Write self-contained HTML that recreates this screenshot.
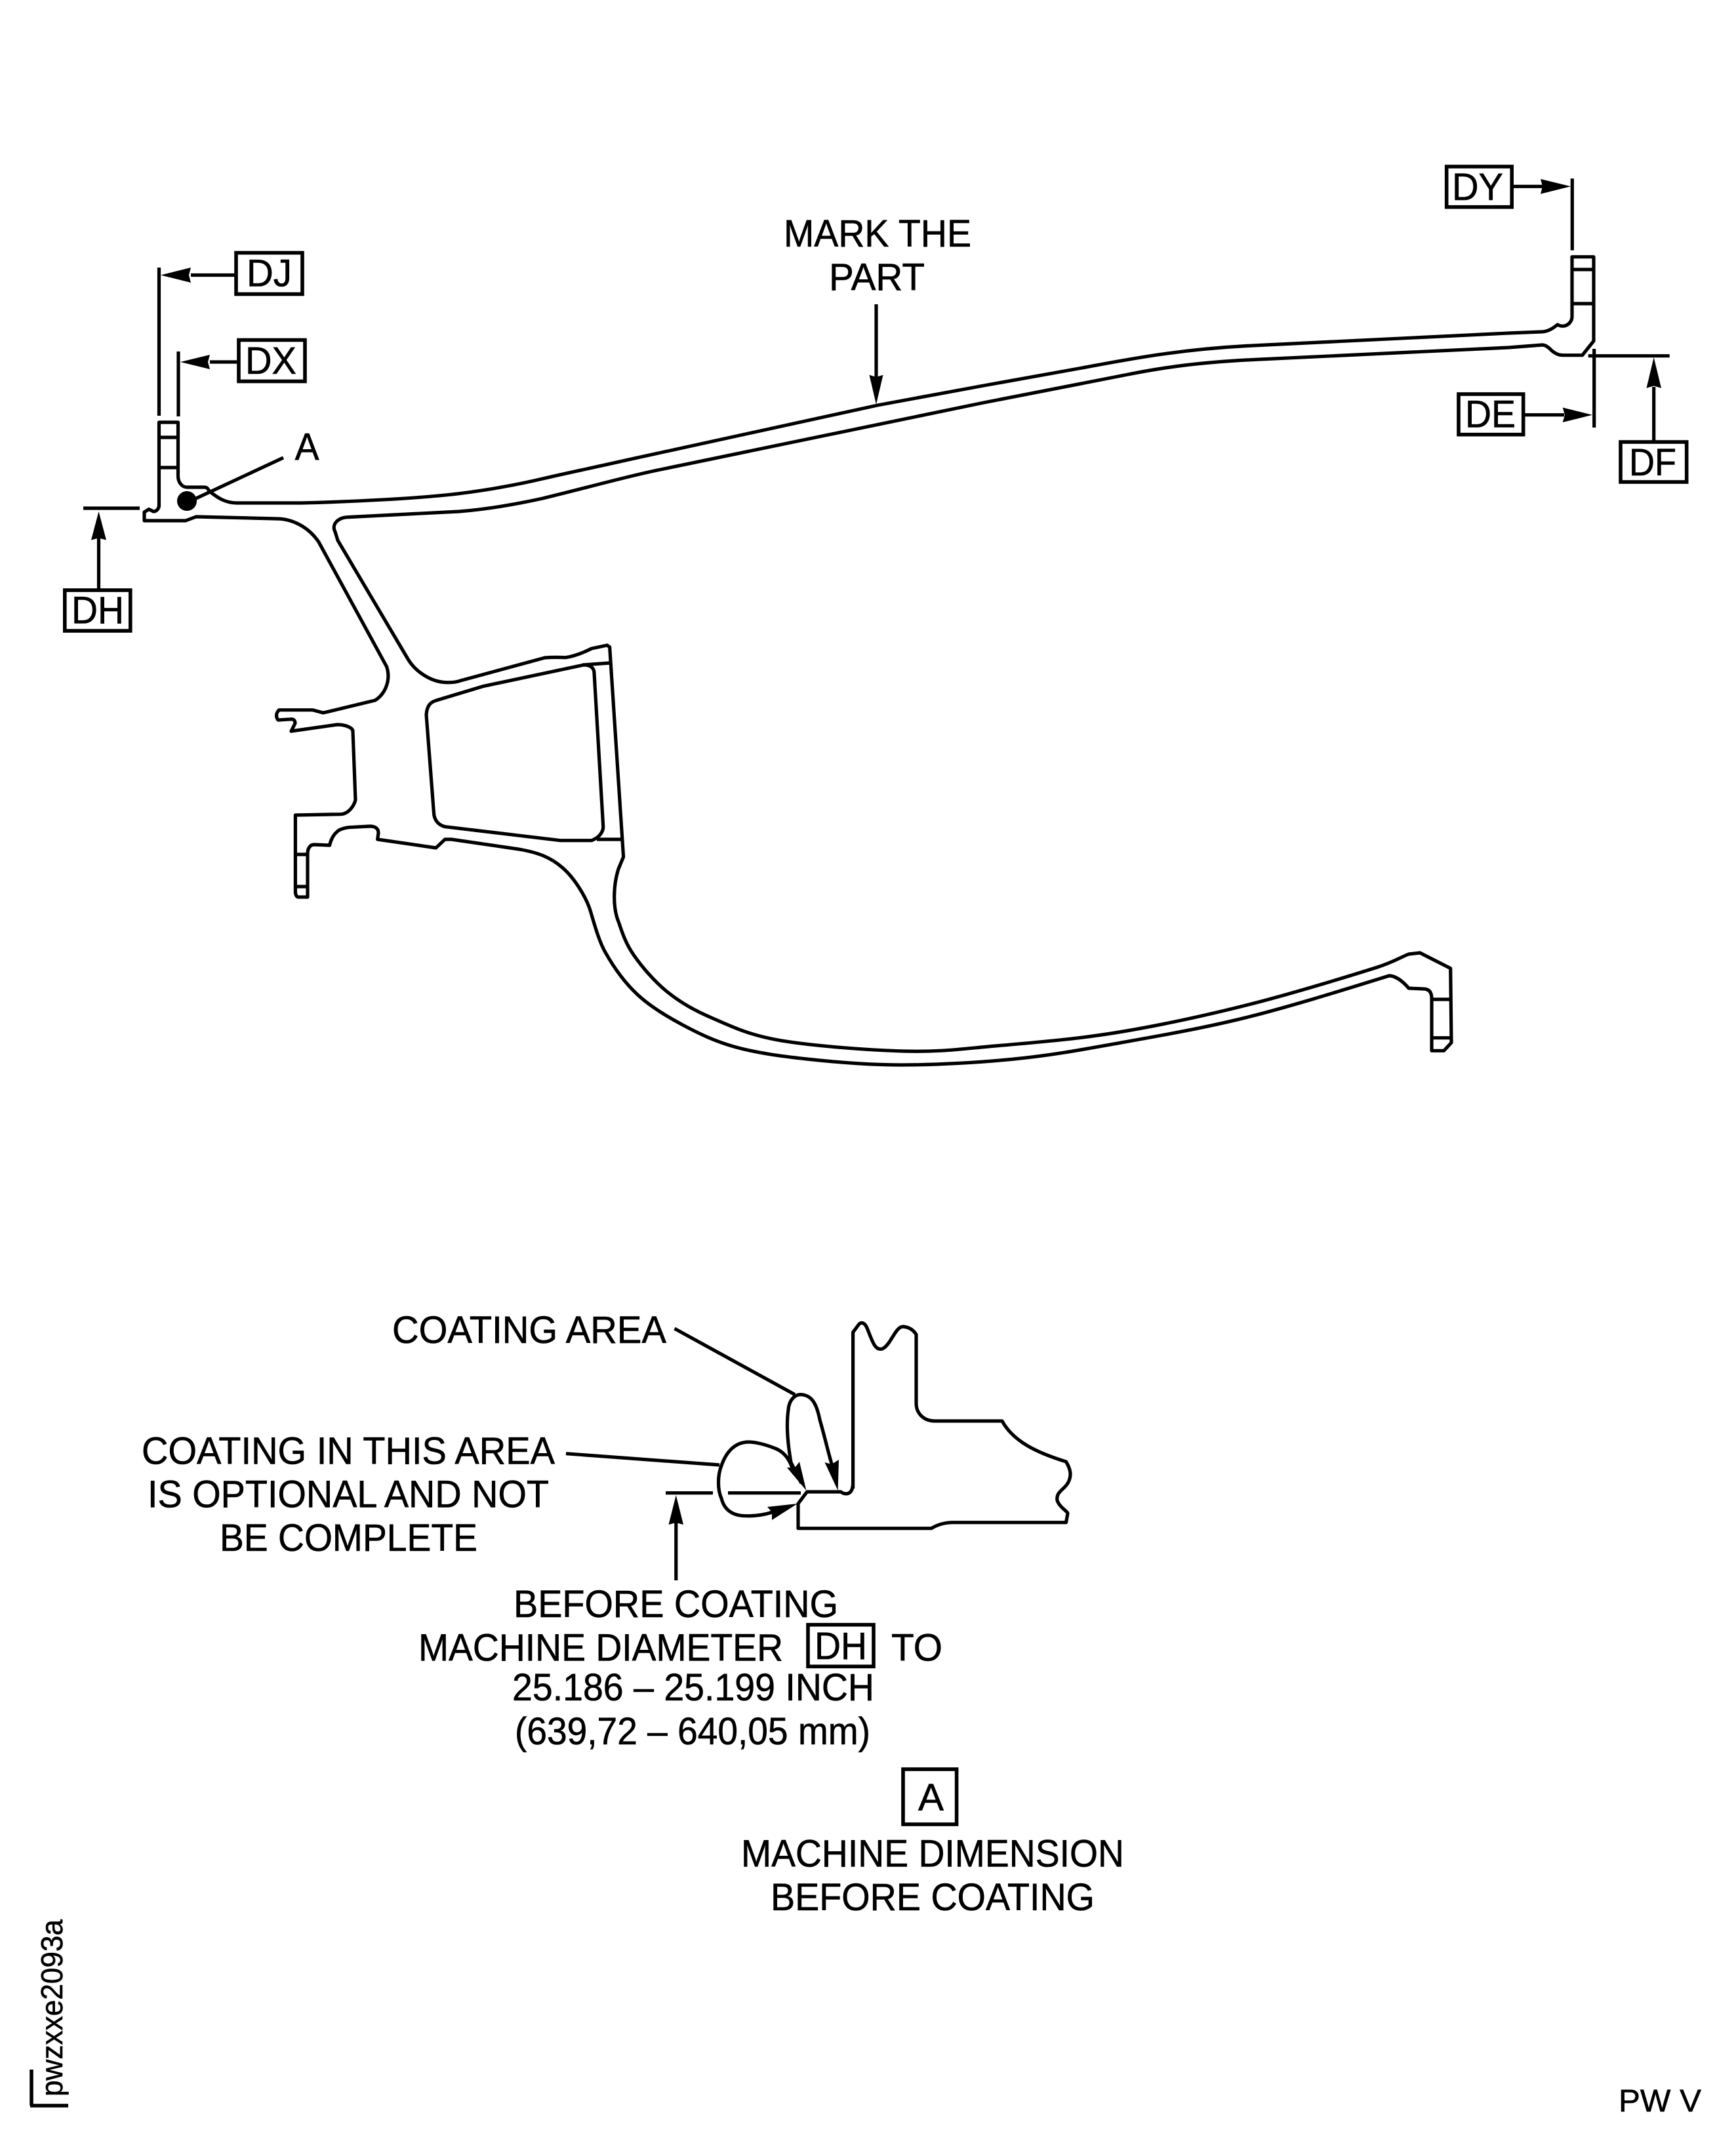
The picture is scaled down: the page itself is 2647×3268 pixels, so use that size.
<!DOCTYPE html>
<html><head><meta charset="utf-8"><title>Diagram</title>
<style>html,body{margin:0;padding:0;background:#fff}svg{display:block}
text{font-family:"Liberation Sans",sans-serif;font-size:58px;fill:#000;stroke:#000;stroke-width:.6px}</style></head>
<body>
<svg xmlns="http://www.w3.org/2000/svg" width="2647" height="3268" viewBox="0 0 2647 3268">
<rect width="2647" height="3268" fill="#fff"/>
<g fill="none" stroke="#000" stroke-width="5.2" stroke-linejoin="round">
<path d="M242.5,644 H271.5 V726 C271.5,736 278,743 285,743 H312 C316,743 317,746 319,748.5 C332,760 345,767 361,767 L459.5,767 C540,765 640,760 700,752.7 C745,747 785,740 827.5,730 C870,720 910,712 955,701.7 L1338,618 L1500,588 L1650,561 C1730,546 1800,533 1900,527.5 L2300,508 L2350,506 C2362,506 2371,498 2375,495 C2378,497 2380,497.3 2383,497.3 C2391,497 2397,490 2397,483 V391.7 H2430 V520 L2412.7,541.7 H2383 C2375,541.7 2368,537 2363,531.7 C2359,528 2355,526 2351.7,526 L2300,530 L1900,549 C1830,553 1780,559 1720,571 L1500,614 L1000,717.5 C950,728 890,745 827.5,760 Q760,775 700,780 L531,788.6 C515,789 505,800 511,811 L515,824 L622,1005 C632,1022 655,1040 680.5,1040.7 C690,1041 697,1040 702,1038 L830.8,1003 Q845,1002 862.4,1002.7 Q880,1000 902,989 L925.7,984 L929.6,986.7 L950.6,1306.7 L943,1325 C935,1350 934,1385 943.5,1406.7 C948.5,1421.7 954.1,1439 966.5,1456.7 C978.9,1474.4 998,1497 1018,1513 C1038,1529 1058.3,1540.7 1087,1553 C1115.7,1565.3 1141.2,1578.4 1190,1586.7 C1238.8,1595 1325.4,1601.6 1380,1603 C1434.6,1604.4 1464.3,1599.7 1517.6,1595 C1570.9,1590.3 1636.3,1585.3 1700,1575 C1763.7,1564.7 1833.3,1549.7 1900,1533 C1966.7,1516.3 2059,1488 2100,1475 C2125,1467 2135,1460 2148,1455 L2165,1453 L2211.7,1476.7 L2213,1590 L2201.7,1602.3 H2183 V1523 C2183,1512 2178,1508 2170,1508 L2148,1507 C2142,1500 2130,1488 2118,1488 C2060,1506 1969.7,1534.4 1900,1551.7 C1830.3,1569 1759,1581.1 1700,1591.7 C1641,1602.3 1600.3,1609.6 1546,1615 C1491.7,1620.4 1426.6,1624 1374,1624 C1321.4,1624 1272.6,1619.6 1230.5,1615 C1188.5,1610.4 1153,1605.4 1121.5,1596.7 C1090,1588 1065.9,1576.3 1041,1563 C1016,1549.7 991.6,1535 972,1516.7 C952.4,1498.4 935.3,1474.1 923.4,1453 C914,1437 907,1412 900.5,1390 C894,1368 875.7,1338.8 857.4,1323 C839,1307 820,1300 791,1295 L688.4,1280 H678.5 L664.7,1293 L575.7,1280 L577,1270 C577,1262 570,1260 564,1260 L532,1261.7 C522,1263 516,1266 514.4,1268 C508,1273 504,1282 502.6,1289 L479,1288 C472,1288 469,1295 469,1301.7 V1368 H455 C452,1368 450.4,1364 450.4,1360 V1243 L520,1241.7 C532,1241 540,1228 542,1220 L538,1115 C538,1110 527,1105 514.4,1105 L444,1115 L450,1103 C450,1099 448,1097 445,1096.7 L424,1098 C421,1094 420,1088 425.5,1082.7 H477 L492.7,1087 L498.6,1085.7 L571.8,1068 C585,1060 597,1040 589.6,1016.7 L486,826.6 C470,803 445,791 421.5,791 L299,788 L283,794 H220 V781 L227,776.6 L234,780 C239,780 242.5,775 242.5,771 Z"/>
<path d="M664.7,1068.3 C656,1071 651,1076 650,1090 L661.5,1240 C662,1250 668,1258 678.5,1260.7 L854.5,1281.7 H902 C912,1278 920,1270 919.7,1260 L906,1026.7 C906,1020 902,1014 890,1014 L736,1046.7 Z"/>
<path d="M242,667 H271 M242,713 H271 M2397,411 H2430 M2397,463 H2430 M888,1014 L929.6,1011 M910,1280 H948 M450,1303 H469 M450,1352 H469 M2183,1524 H2212 M2183,1582.7 H2213"/>
<path d="M1300.6,2270 V2031.7 L1310,2019 Q1317,2014 1322,2025 C1330,2045 1334,2060 1345,2057 C1358,2052 1365,2023 1377,2023 Q1390,2024 1397,2035 V2140 C1397,2155 1408,2167 1425.7,2167 H1528 C1545,2198 1580,2215 1625.5,2229 C1632,2240 1635,2250 1628,2262 C1622,2272 1610,2275 1612,2288 C1615,2298 1628,2305 1628,2308 L1625.5,2321.7 H1451.5 Q1435,2322 1420,2330.7 H1217 V2293 L1230.5,2275 H1282 C1287,2279 1300,2282 1300.6,2262"/>
<path d="M1222,2126.7 C1212,2126 1203,2135 1202,2150 C1199,2170 1200,2195 1206,2230 L1222,2262 M1222,2126.7 C1240,2128 1246,2145 1250,2165 C1260,2200 1265,2225 1272,2245"/>
<path d="M1211,2248 C1205,2225 1195,2213 1180,2208 C1165,2202 1150,2199 1141.6,2199 C1120,2199 1107,2215 1100,2235 C1094,2250 1094,2272 1100,2285 C1105,2305 1120,2312 1138.7,2311.7 C1150,2312 1165,2310 1178,2306"/>
<path d="M1028.5,2026 L1212,2126.7 M863,2216.7 L1097,2234 M1015,2276.7 H1087 M1110,2276.7 H1221 M1030.8,2320 V2410 M432,698 L299,760"/>
<path d="M1336,464 V580"/>
<path d="M242.5,408 V634 M272,536 V635 M291,419.5 H360 M320,552 H364 M150.5,815 V900 M127,775 H213 M2306.7,284.3 H2352 M2397.3,272.3 V381.7 M2323,632.7 H2385 M2430.7,532 V652 M2421.7,542.7 H2545.7 M2521.7,590 V674"/>
</g>
<g fill="none" stroke="#000" stroke-width="5.6">
<rect x="360" y="385.5" width="101" height="63"/>
<rect x="364" y="518.5" width="101" height="63"/>
<rect x="98.8" y="900" width="100" height="62"/>
<rect x="2205.7" y="254" width="99.5" height="61.7"/>
<rect x="2224" y="601" width="98.7" height="61.7"/>
<rect x="2471" y="674" width="100.7" height="61"/>
<rect x="1232" y="2477.7" width="100" height="63.6"/>
<rect x="1377" y="2698" width="81.6" height="84"/>
<path d="M46,3211 H104 M48,3211 V3156"/>
</g>
<g fill="#000">
<circle cx="285" cy="764" r="15"/>
<polygon points="245,419.5 291,408 288,419.5 291,431"/>
<polygon points="275,552 320,541 317,552 320,563"/>
<polygon points="150.5,780 162,823.5 150.5,820.5 139,823.5"/>
<polygon points="2395,284.3 2349,273 2352,284.3 2349,295.7"/>
<polygon points="2428,632.7 2382.7,621.5 2386,632.7 2382.7,644"/>
<polygon points="2521.7,545 2533,591.7 2521.7,588.5 2510.5,591.7"/>
<polygon points="1336,616.7 1325.5,571.7 1336,575 1346.5,571.7"/>
<polygon points="1030.8,2280 1042,2325 1030.8,2322 1019.5,2325"/>
<polygon points="1277.6,2273 1257.5,2230 1268,2233 1279,2226"/>
<polygon points="1229.4,2273 1200,2238 1212,2238 1219,2229.3"/>
<polygon points="1216,2293 1170,2298 1177,2306 1177,2318"/>
</g>
<text x="449.6" y="701.6" textLength="37" lengthAdjust="spacingAndGlyphs">A</text>
<text x="376" y="436.4" textLength="69" lengthAdjust="spacingAndGlyphs">DJ</text>
<text x="374" y="570" textLength="78" lengthAdjust="spacingAndGlyphs">DX</text>
<text x="109" y="950.7" textLength="80" lengthAdjust="spacingAndGlyphs">DH</text>
<text x="2214" y="305" textLength="78" lengthAdjust="spacingAndGlyphs">DY</text>
<text x="2234" y="651.7" textLength="77" lengthAdjust="spacingAndGlyphs">DE</text>
<text x="2484" y="725" textLength="72" lengthAdjust="spacingAndGlyphs">DF</text>
<text x="1195" y="376" textLength="286" lengthAdjust="spacingAndGlyphs">MARK THE</text>
<text x="1264" y="442.7" textLength="146" lengthAdjust="spacingAndGlyphs">PART</text>
<text x="598" y="2048" textLength="418" lengthAdjust="spacingAndGlyphs">COATING AREA</text>
<text x="216" y="2232.7" textLength="630" lengthAdjust="spacingAndGlyphs">COATING IN THIS AREA</text>
<text x="225" y="2298.3" textLength="612" lengthAdjust="spacingAndGlyphs">IS OPTIONAL AND NOT</text>
<text x="335" y="2365" textLength="393" lengthAdjust="spacingAndGlyphs">BE COMPLETE</text>
<text x="783" y="2466" textLength="495" lengthAdjust="spacingAndGlyphs">BEFORE COATING</text>
<text x="638" y="2532.7" textLength="556" lengthAdjust="spacingAndGlyphs">MACHINE DIAMETER</text>
<text x="1242" y="2530" textLength="80" lengthAdjust="spacingAndGlyphs">DH</text>
<text x="1359" y="2532.7" textLength="78" lengthAdjust="spacingAndGlyphs">TO</text>
<text x="781" y="2593" textLength="552" lengthAdjust="spacingAndGlyphs">25.186 – 25.199 INCH</text>
<text x="785" y="2660" textLength="542" lengthAdjust="spacingAndGlyphs">(639,72 – 640,05 mm)</text>
<text x="1400" y="2761" textLength="39" lengthAdjust="spacingAndGlyphs">A</text>
<text x="1130" y="2846.7" textLength="584" lengthAdjust="spacingAndGlyphs">MACHINE DIMENSION</text>
<text x="1175" y="2913" textLength="494" lengthAdjust="spacingAndGlyphs">BEFORE COATING</text>
<text x="2468" y="3220" style="font-size:48px" textLength="126" lengthAdjust="spacingAndGlyphs">PW V</text>
<text transform="translate(95,3197) rotate(-90)" x="0" y="0" style="font-size:46px" textLength="270" lengthAdjust="spacingAndGlyphs">pwzxxe2093a</text>
</svg>
</body></html>
